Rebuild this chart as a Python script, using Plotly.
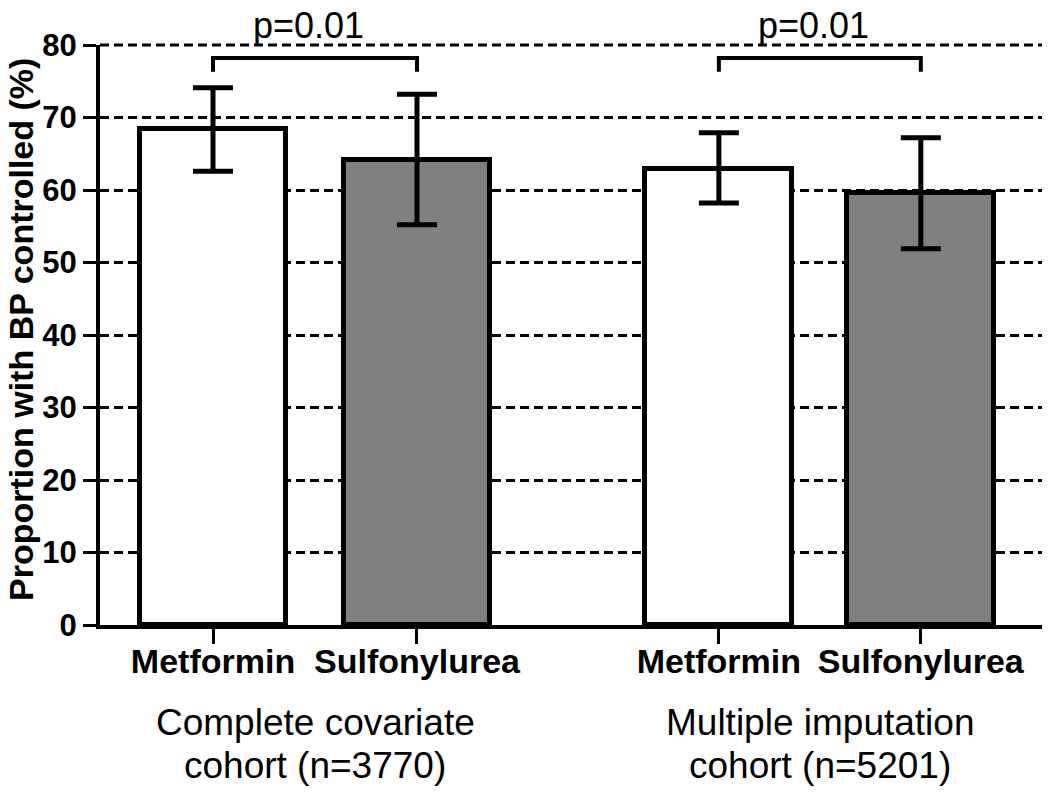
import plotly.graph_objects as go

# ---- data ----
drugs = ["Metformin", "Sulfonylurea", "Metformin", "Sulfonylurea"]
x_pos = [1.0, 2.0, 3.48, 4.47]
values = [68.4, 64.1, 62.9, 59.6]
err_hi = [74.1, 73.2, 67.9, 67.2]
err_lo = [62.6, 55.2, 58.2, 51.9]
cohort_line1 = ["Complete covariate", "Multiple imputation"]
cohort_line2 = ["cohort (n=3770)", "cohort (n=5201)"]
p_labels = ["p=0.01", "p=0.01"]
y_ticks = [0, 10, 20, 30, 40, 50, 60, 70, 80]
fills = ["white", "#808080", "white", "#808080"]

FONT = "Liberation Sans, Arial, sans-serif"

fig = go.Figure()
fig.add_trace(go.Bar(
    x=x_pos, y=values, width=0.72,
    marker=dict(color=fills, line=dict(color="black", width=5)),
    error_y=dict(type="data", symmetric=False,
                 array=[h - v for h, v in zip(err_hi, values)],
                 arrayminus=[v - l for v, l in zip(values, err_lo)],
                 color="black", thickness=5, width=20),
    showlegend=False, hoverinfo="skip",
))

# top gridline (plotly drops the one on the plot edge)
fig.add_shape(type="line", xref="paper", yref="paper", x0=0, x1=1, y0=1, y1=1,
              line=dict(color="black", width=3, dash="9px,5px"), layer="below")

# significance brackets
pairs = [(x_pos[0], x_pos[1]), (x_pos[2], x_pos[3])]
for (a, b), p in zip(pairs, p_labels):
    fig.add_shape(type="path", xref="x", yref="y",
                  path=f"M {a},76.3 L {a},78.2 L {b},78.2 L {b},76.3",
                  line=dict(color="black", width=4))
    fig.add_annotation(x=(a + b) / 2 - 0.03, y=1.034, xref="x", yref="paper", text=p,
                       showarrow=False, yanchor="middle",
                       font=dict(family=FONT, size=36, color="black"))

# cohort labels
for (a, b), l1, l2 in zip(pairs, cohort_line1, cohort_line2):
    fig.add_annotation(x=(a + b) / 2, y=-0.168, xref="x", yref="paper", text=l1,
                       showarrow=False, yanchor="middle",
                       font=dict(family=FONT, size=37, color="black"))
    fig.add_annotation(x=(a + b) / 2, y=-0.242, xref="x", yref="paper", text=l2,
                       showarrow=False, yanchor="middle",
                       font=dict(family=FONT, size=37, color="black"))

# y-axis title
fig.add_annotation(x=-0.084, y=0.51, xref="paper", yref="paper",
                   text="<b>Proportion with BP controlled (%)</b>", textangle=-90,
                   showarrow=False, xanchor="center", yanchor="middle",
                   font=dict(family=FONT, size=34, color="black"))

fig.update_layout(
    width=1042, height=787,
    margin=dict(l=92, r=7, t=37, b=170),
    plot_bgcolor="white", paper_bgcolor="white",
    bargap=0,
)
fig.update_xaxes(
    range=[0.446, 5.069], tickvals=x_pos,
    ticktext=[f"<b>{d}</b>" for d in drugs],
    tickfont=dict(family=FONT, size=34, color="black"),
    showline=True, linecolor="black", linewidth=4,
    ticks="outside", ticklen=15, tickwidth=3, tickcolor="black",
    ticklabelstandoff=-12,
    showgrid=False, zeroline=False,
)
fig.update_yaxes(
    range=[0, 80], tickvals=y_ticks,
    ticktext=[f"<b>{t}</b>" for t in y_ticks],
    tickfont=dict(family=FONT, size=31, color="black"),
    showline=True, linecolor="black", linewidth=4,
    ticks="outside", ticklen=13, tickwidth=3, tickcolor="black",
    showgrid=True, gridcolor="black", gridwidth=3, griddash="9px,5px",
    zeroline=False,
)

fig.write_html("out.html")
